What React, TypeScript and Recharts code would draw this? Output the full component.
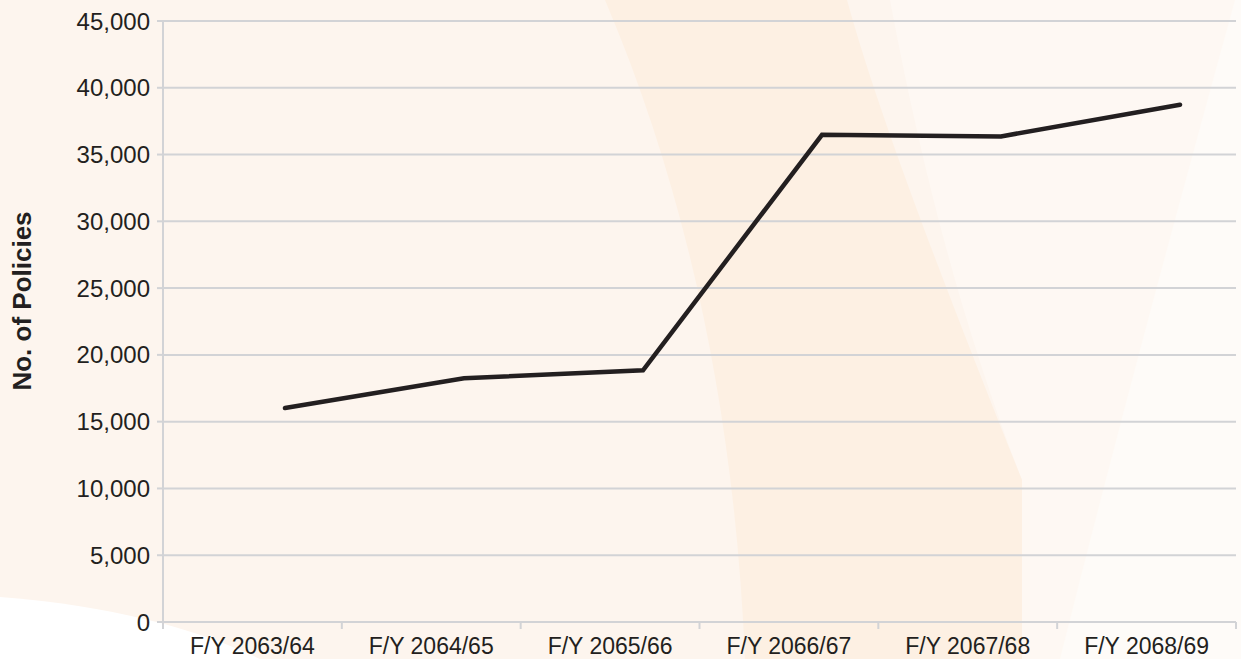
import * as React from "react";
import { LineChart, Line, XAxis, YAxis, CartesianGrid } from "recharts";

const years = ["F/Y 2063/64", "F/Y 2064/65", "F/Y 2065/66", "F/Y 2066/67", "F/Y 2067/68", "F/Y 2068/69"];
const policies = [16020, 18250, 18850, 36480, 36360, 38730];
const yTicks = [0, 5000, 10000, 15000, 20000, 25000, 30000, 35000, 40000, 45000];

const data = years.map((year, i) => ({ year, policies: policies[i] }));

const W = 1241;
const H = 659;
const PLOT_LEFT = 163;
const PLOT_RIGHT = 5;
const BAND = (W - PLOT_LEFT - PLOT_RIGHT) / years.length;
const GREY = "#d2d3d6";
const INK = "#231f20";
const FONT = "'Liberation Sans', Arial, sans-serif";

const fmt = (v: number) => v.toLocaleString("en-US");

// labels sit in the middle of each band, tick marks on the band edges
const XTick = (props: any) => {
    const { x, y, index } = props;
    const left = x - BAND / 2;
    return (
        <g>
            <line x1={left} x2={left} y1={y} y2={y + 7} stroke={GREY} strokeWidth={2} />
            {index === years.length - 1 && (
                <line x1={left + BAND} x2={left + BAND} y1={y} y2={y + 7} stroke={GREY} strokeWidth={2} />
            )}
            <text x={x} y={y + 32} textAnchor="middle" fill={INK} fontSize={23} fontFamily={FONT}>
                {props.payload.value}
            </text>
        </g>
    );
};

const Background = () => (
    <svg width={W} height={H} style={{ position: "absolute", left: 0, top: 0 }}>
        <rect width={W} height={H} fill="#fdf5ee" />
        <path d="M890,0 L1241,0 L1241,659 L1022,659 L1022,480 C960,320 920,160 890,0 Z" fill="#fef8f3" />
        <path d="M1235,0 L1241,0 L1241,659 L1060,659 C1120,420 1180,200 1235,0 Z" fill="#fefbf8" />
        <path d="M605,0 L847,0 C880,120 950,300 1022,480 L1022,659 L745,659 C735,420 690,200 605,0 Z" fill="#fdf0e3" />
        <path d="M0,597 C80,603 180,620 260,659 L0,659 Z" fill="#ffffff" />
    </svg>
);

export default function App() {
    return (
        <div style={{ position: "absolute", left: 0, top: 0, width: W, height: H }}>
            <Background />
            <div style={{ position: "absolute", left: 0, top: 0 }}>
                <LineChart width={W} height={H} data={data} margin={{ top: 21, right: PLOT_RIGHT, bottom: 0, left: 0 }}>
                    <CartesianGrid vertical={false} stroke={GREY} strokeWidth={2} />
                    <XAxis
                        dataKey="year"
                        scale="band"
                        height={37}
                        stroke={GREY}
                        strokeWidth={2}
                        tickLine={false}
                        tickSize={0}
                        tickMargin={0}
                        tick={<XTick />}
                        interval={0}
                    />
                    <XAxis xAxisId="pts" dataKey="year" hide padding={{ left: 122, right: 56 }} />
                    <YAxis
                        width={PLOT_LEFT}
                        domain={[0, 45000]}
                        ticks={yTicks}
                        tickFormatter={fmt}
                        stroke={GREY}
                        strokeWidth={2}
                        tickSize={6}
                        tickMargin={7}
                        tick={{ fill: INK, fontSize: 24, fontFamily: FONT }}
                        label={{
                            content: () => (
                                <text
                                    x={22}
                                    y={301}
                                    transform="rotate(-90, 22, 301)"
                                    textAnchor="middle"
                                    dominantBaseline="central"
                                    fill={INK}
                                    fontSize={26}
                                    fontWeight="bold"
                                    fontFamily={FONT}
                                >
                                    No. of Policies
                                </text>
                            ),
                        }}
                    />
                    <Line
                        xAxisId="pts"
                        dataKey="policies"
                        stroke={INK}
                        strokeWidth={4.5}
                        strokeLinecap="round"
                        strokeLinejoin="miter"
                        dot={false}
                        activeDot={false}
                        isAnimationActive={false}
                    />
                </LineChart>
            </div>
        </div>
    );
}
